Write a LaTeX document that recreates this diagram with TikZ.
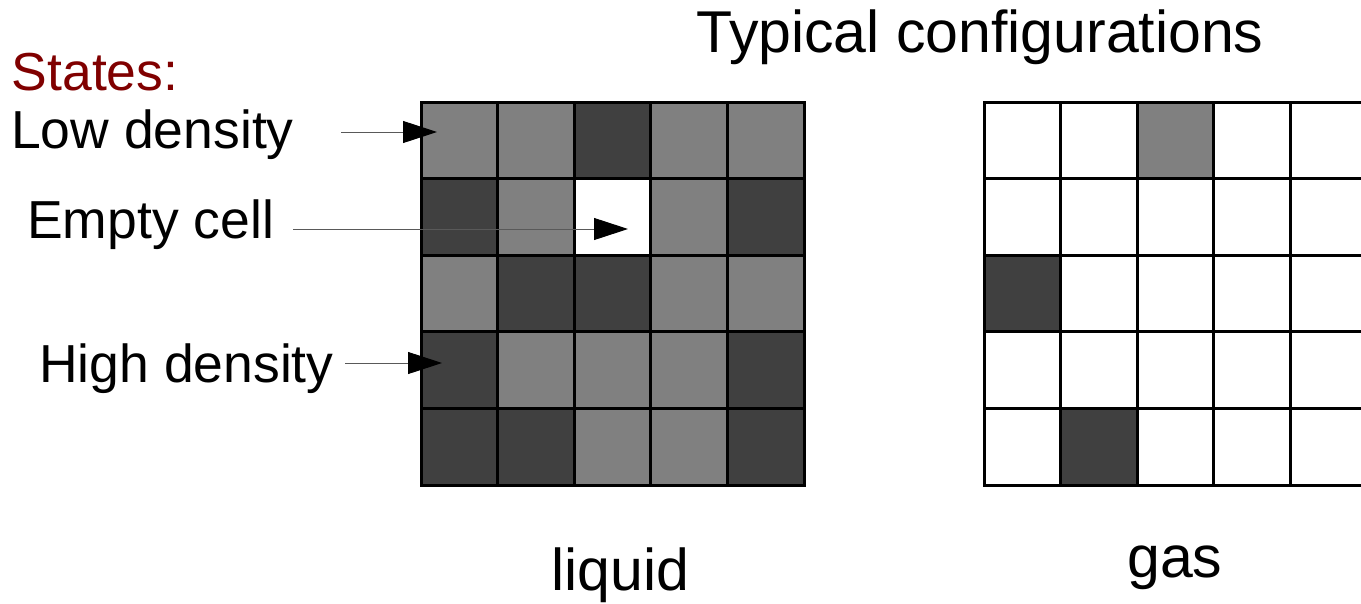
\documentclass[tikz,border=0pt]{standalone}
\usepackage{fontspec}
\setmainfont{Liberation Sans}
\usetikzlibrary{arrows.meta}
\definecolor{cL}{HTML}{808080}
\definecolor{cD}{HTML}{404040}
\definecolor{cW}{HTML}{FFFFFF}
\definecolor{statesred}{HTML}{800000}
\begin{document}
\begin{tikzpicture}[x=1pt,y=-1pt,
  cellbox/.style={draw=black,line width=3pt,minimum size=76.6pt,inner sep=0pt,outer sep=0pt},
  lbl/.style={anchor=base west,inner sep=0pt,font=\fontsize{53.5}{60}\selectfont},
  ttl/.style={anchor=base west,inner sep=0pt,font=\fontsize{59}{66}\selectfont},
  ptr/.style={draw=black!65,line width=1pt,-{Triangle[length=34pt,width=22pt,fill=black,color=black]},shorten >=0pt}]
\useasboundingbox (0,0) rectangle (1361,603);
\clip (0,0) rectangle (1361,603);
% liquid grid
\foreach \row [count=\r from 0] in {{L,L,D,L,L},{D,L,W,L,D},{L,D,D,L,L},{D,L,L,L,D},{D,D,L,L,D}}{
  \foreach \c [count=\k from 0] in \row {
    \node[cellbox,fill=c\c] (liq-\r-\k) at ({421+76.6*\k+38.3},{102+76.6*\r+38.3}) {};
  }
}
% gas grid
\foreach \row [count=\r from 0] in {{W,W,L,W,W},{W,W,W,W,W},{D,W,W,W,W},{W,W,W,W,W},{W,D,W,W,W}}{
  \foreach \c [count=\k from 0] in \row {
    \node[cellbox,fill=c\c] (gas-\r-\k) at ({984+76.6*\k+38.3},{102+76.6*\r+38.3}) {};
  }
}
% texts
\node[ttl] (title) at (696,52) {Typical configurations};
\node[lbl,text=statesred] (states) at (11.5,90) {States:};
\node[lbl] (low) at (11,148) {Low density};
\node[lbl] (empty) at (27,238) {Empty cell};
\node[lbl] (high) at (39,382) {High density};
\node[ttl] (liquid) at (551,590) {liquid};
\node[ttl] (gas) at (1127,577) {gas};
% arrows
\coordinate (lowstart) at (341,132);
\coordinate (lowtip) at (437,132);
\coordinate (emptystart) at (293,229);
\coordinate (emptytip) at (628,229);
\coordinate (highstart) at (345,363);
\coordinate (hightip) at (442,363);
\draw[ptr] (lowstart) -- (lowtip);
\draw[ptr] (emptystart) -- (emptytip);
\draw[ptr] (highstart) -- (hightip);
\end{tikzpicture}
\end{document}
